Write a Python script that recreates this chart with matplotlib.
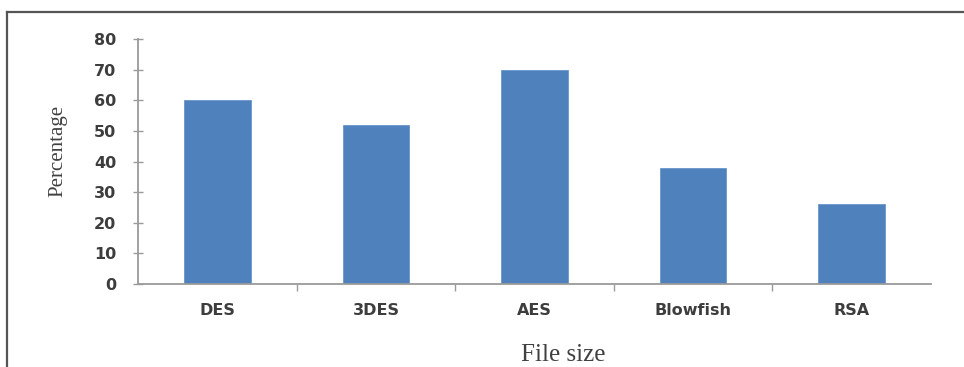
import matplotlib.pyplot as plt
from matplotlib.lines import Line2D

algorithms = ['DES', '3DES', 'AES', 'Blowfish', 'RSA']
percentage = [60, 52, 70, 38, 26]

fig = plt.figure(figsize=(9.64, 3.67), dpi=100)
ax = fig.add_axes([138/964, 1-284/367, (931-138)/964, (284-39)/367])

pos = list(range(len(algorithms)))
ax.bar(pos, percentage, width=0.42, color='#4F81BD', edgecolor='#6A96CC', linewidth=0.6)

ax.set_xlim(-0.5, len(algorithms) - 0.5)
ax.set_ylim(0, 80)
ax.set_yticks(range(0, 81, 10))
ax.set_xticks(pos)
ax.set_xticklabels(algorithms)
ax.set_xticks([p + 0.5 for p in pos[:-1]], minor=True)

for s in ['top', 'right']:
    ax.spines[s].set_visible(False)
for s in ['left', 'bottom']:
    ax.spines[s].set_color('#9a9a9a')
    ax.spines[s].set_linewidth(1.3)

ax.tick_params(axis='y', direction='inout', length=7, width=1, color='#9a9a9a', pad=12)
ax.tick_params(axis='x', which='major', length=0, pad=14)
ax.tick_params(axis='x', which='minor', direction='out', length=5, width=1, color='#9a9a9a')
for lab in ax.get_xticklabels() + ax.get_yticklabels():
    lab.set_fontfamily('DejaVu Sans')
    lab.set_fontweight('bold')
    lab.set_fontsize(11.5)
    lab.set_color('#3d3d3d')

fig.text(58/964, 1-151/367, 'Percentage', rotation=90, ha='center', va='center',
         family='Liberation Serif', fontsize=15, color='#404040')
fig.text(563/964, 1-355/367, 'File size', ha='center', va='center',
         family='Liberation Serif', fontsize=18, color='#404040')

# frame around the picture
fig.add_artist(Line2D([7/964, 7/964], [0, 1-12/367], color='#555555', linewidth=1.6))
fig.add_artist(Line2D([7/964, 1], [1-12/367, 1-12/367], color='#555555', linewidth=1.6))

fig.savefig('out.png', dpi=100)
